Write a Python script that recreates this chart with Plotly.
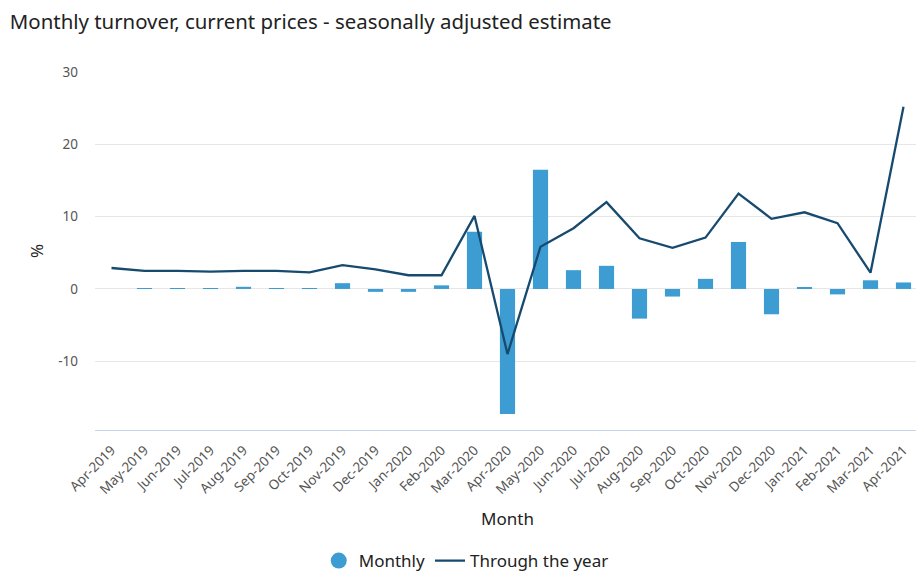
import plotly.graph_objects as go

months = ["Apr-2019","May-2019","Jun-2019","Jul-2019","Aug-2019","Sep-2019","Oct-2019",
          "Nov-2019","Dec-2019","Jan-2020","Feb-2020","Mar-2020","Apr-2020","May-2020",
          "Jun-2020","Jul-2020","Aug-2020","Sep-2020","Oct-2020","Nov-2020","Dec-2020",
          "Jan-2021","Feb-2021","Mar-2021","Apr-2021"]
monthly = [0.0, 0.05, 0.05, 0.05, 0.3, 0.05, 0.05, 0.8, -0.4, -0.4, 0.5, 7.9, -17.3, 16.5,
           2.6, 3.2, -4.1, -1.05, 1.4, 6.5, -3.5, 0.15, -0.75, 1.2, 0.9]
through_year = [2.9, 2.5, 2.5, 2.4, 2.5, 2.5, 2.3, 3.3, 2.7, 1.9, 1.9, 10.1, -9.0, 5.85,
                8.4, 12.0, 7.0, 5.7, 7.1, 13.2, 9.7, 10.6, 9.1, 2.25, 25.2]
y_ticks = [-10, 0, 10, 20, 30]
y_tick_text = ["-10", "0", "10", "20", "30"]

BAR = "#3d9dd2"
LINE = "#174a6f"
FONT = "Segoe UI, Noto Sans, sans-serif"

fig = go.Figure()
fig.add_trace(go.Bar(x=months, y=monthly, name="Monthly", marker_color=BAR,
                     marker_line_width=0, showlegend=False))
fig.add_trace(go.Scatter(x=[None], y=[None], mode="markers", name="Monthly",
                         marker=dict(symbol="circle", size=16, color=BAR)))
fig.add_trace(go.Scatter(x=months, y=through_year, mode="lines", name="Through the year",
                         line=dict(color=LINE, width=2.3)))

fig.update_layout(
    width=924, height=583,
    margin=dict(l=87, r=12, t=64, b=161),
    paper_bgcolor="white", plot_bgcolor="white",
    font=dict(family=FONT, color="#333"),
    title=dict(text="Monthly turnover, current prices - seasonally adjusted estimate",
               x=0.002, xanchor="left", y=0.976, yanchor="middle",
               font=dict(size=20.4, color="#222", family=FONT)),
    bargap=0.54,
    showlegend=True,
    legend=dict(orientation="h", x=0.45, xanchor="center", y=-0.366, yanchor="middle",
                font=dict(size=17, color="#222"), itemwidth=30),
    xaxis=dict(tickangle=-45, tickfont=dict(size=13.5, color="#555"), automargin=False,
               showline=True, linecolor="#c5d4ea", linewidth=1, showgrid=False,
               ticks="", ticklabelstandoff=6,
               title=dict(text="Month", font=dict(size=17, color="#222"), standoff=16)),
    yaxis=dict(range=[-19.5, 30.0], tickvals=y_ticks, ticktext=y_tick_text, automargin=False,
               tickfont=dict(size=13.5, color="#555"),
               gridcolor="#e6e6e6", zeroline=True, zerolinecolor="#e6e6e6", zerolinewidth=1,
               ticks="", ticklabelstandoff=16,
               title=dict(text="%", font=dict(size=17, color="#222"), standoff=10)),
)

fig.write_html("out.html")
